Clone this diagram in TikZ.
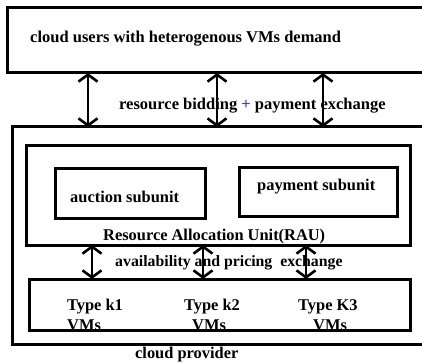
\documentclass[tikz,border=0pt]{standalone}
\usepackage{fontspec}
\setmainfont{Liberation Serif}
\usetikzlibrary{arrows.meta}
\definecolor{pluspurple}{RGB}{112,48,160}
\begin{document}
\begin{tikzpicture}[x=1pt,y=-1pt,
  box/.style={draw,line width=3pt,inner sep=0pt,outer sep=0pt,anchor=north west},
  lbl/.style={font=\bfseries\fontsize{16.4}{19}\selectfont,inner sep=0pt,anchor=base west},
  biarrow/.style={line width=2.6pt,{Straight Barb[length=7pt,width=19pt,line width=2.6pt]}-{Straight Barb[length=7pt,width=19pt,line width=2.6pt]}}]
\clip (0,0) rectangle (422,363);
\fill[white] (0,0) rectangle (422,363);
% boxes
\node[box,minimum width=440pt,minimum height=65pt] (users) at (7,8) {};
\node[box,minimum width=440pt,minimum height=217pt] (cp) at (12,127) {};
\node[box,minimum width=384pt,minimum height=99pt] (rau) at (26,146) {};
\node[box,minimum width=150pt,minimum height=49pt] (auction) at (55,169) {};
\node[box,minimum width=158pt,minimum height=48pt] (payment) at (239,168) {};
% texts
\node[lbl,font=\bfseries\fontsize{16.5}{19}\selectfont] (tusers) at (30,43) {cloud users with heterogenous VMs demand};
\node[lbl,font=\bfseries\fontsize{16.5}{19}\selectfont] (tbid) at (119,110) {resource bidding \textcolor{pluspurple}{+} payment exchange};
\node[lbl] (tauction) at (70,202) {auction subunit};
\node[lbl] (tpayment) at (257,190) {payment subunit};
\node[lbl] (trau) at (103,240) {Resource Allocation Unit(RAU)};
\node[lbl,font=\bfseries\fontsize{15.8}{19}\selectfont] (tavail) at (115,266) {availability and pricing\ \ exchange};
\node[lbl] (tk1) at (67,310) {Type k1};
\node[lbl] (tv1) at (67,330) {VMs};
\node[lbl] (tk2) at (184,310) {Type k2};
\node[lbl] (tv2) at (192,330) {VMs};
\node[lbl] (tk3) at (298,310) {Type K3};
\node[lbl] (tv3) at (313,330) {VMs};
\node[lbl] (tcp) at (135,358) {cloud provider};
% VM box drawn over the VMs labels
\node[box,minimum width=381pt,minimum height=51pt] (vm) at (29,279) {};
% arrow positions
\coordinate (a1) at (88,0);
\coordinate (a2) at (217,0);
\coordinate (a3) at (323,0);
\coordinate (b1) at (92,0);
\coordinate (b2) at (203,0);
\coordinate (b3) at (306,0);
\draw[biarrow] (users.south -| a1) -- (cp.north -| a1);
\draw[biarrow] (users.south -| a2) -- (cp.north -| a2);
\draw[biarrow] (users.south -| a3) -- (cp.north -| a3);
\draw[biarrow] (rau.south -| b1) -- (vm.north -| b1);
\draw[biarrow] (rau.south -| b2) -- (vm.north -| b2);
\draw[biarrow] (rau.south -| b3) -- (vm.north -| b3);
\end{tikzpicture}
\end{document}
